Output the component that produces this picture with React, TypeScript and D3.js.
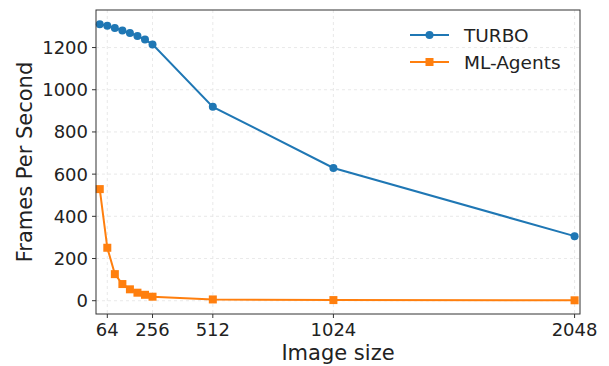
import React from 'react';
import * as d3 from 'd3';

const imageSizes = [32, 64, 96, 128, 160, 192, 224, 256, 512, 1024, 2048];
const turboFps = [1311, 1303, 1293, 1281, 1269, 1255, 1238, 1215, 919, 629, 306];
const mlAgentsFps = [529, 251, 126, 79, 54, 38, 28, 19, 6, 3, 2];
const xTicks = [64, 256, 512, 1024, 2048];
const yTicks = [0, 200, 400, 600, 800, 1000, 1200];

const W = 609;
const H = 366;
const margin = { top: 10, right: 29, bottom: 52, left: 96 };
const FONT = 'DejaVu Sans, sans-serif';

const BLUE = '#1f77b4';
const ORANGE = '#ff7f0e';

export default function App() {
  const x = d3.scaleLinear().domain([16, 2071]).range([margin.left, W - margin.right]);
  const y = d3.scaleLinear().domain([-63, 1378]).range([H - margin.bottom, margin.top]);

  const line = d3
    .line<number>()
    .x((d, i) => x(imageSizes[i]))
    .y(d => y(d));

  const plotL = margin.left;
  const plotR = W - margin.right;
  const plotT = margin.top;
  const plotB = H - margin.bottom;

  return (
    <svg width={W} height={H} style={{ position: 'absolute', left: 0, top: 0 }} fontFamily={FONT}>
      <rect width={W} height={H} fill="white" />
      {/* grid */}
      {xTicks.map(t => (
        <line key={'gx' + t} x1={x(t)} x2={x(t)} y1={plotT} y2={plotB} stroke="#e3e3e3" strokeWidth={0.8} strokeDasharray="3,3" />
      ))}
      {yTicks.map(t => (
        <line key={'gy' + t} x1={plotL} x2={plotR} y1={y(t)} y2={y(t)} stroke="#e3e3e3" strokeWidth={0.8} strokeDasharray="3,3" />
      ))}

      {/* series */}
      <path d={line(turboFps) || ''} fill="none" stroke={BLUE} strokeWidth={2} />
      {turboFps.map((v, i) => (
        <circle key={'t' + i} cx={x(imageSizes[i])} cy={y(v)} r={4} fill={BLUE} />
      ))}
      <path d={line(mlAgentsFps) || ''} fill="none" stroke={ORANGE} strokeWidth={2} />
      {mlAgentsFps.map((v, i) => (
        <rect key={'m' + i} x={x(imageSizes[i]) - 4} y={y(v) - 4} width={8} height={8} fill={ORANGE} />
      ))}

      {/* frame */}
      <rect x={plotL} y={plotT} width={plotR - plotL} height={plotB - plotT} fill="none" stroke="#333" strokeWidth={1} />

      {/* x axis */}
      {xTicks.map(t => (
        <g key={'xt' + t}>
          <line x1={x(t)} x2={x(t)} y1={plotB} y2={plotB + 4} stroke="#333" />
          <text x={x(t)} y={plotB + 22} textAnchor="middle" fontSize={18} fill="#222">{t}</text>
        </g>
      ))}
      <text x={(plotL + plotR) / 2} y={H - 6} textAnchor="middle" fontSize={21} fill="#222">Image size</text>

      {/* y axis */}
      {yTicks.map(t => (
        <g key={'yt' + t}>
          <line x1={plotL - 4} x2={plotL} y1={y(t)} y2={y(t)} stroke="#333" />
          <text x={plotL - 8} y={y(t) + 6.5} textAnchor="end" fontSize={18} fill="#222">{t}</text>
        </g>
      ))}
      <text transform={`translate(32,${(plotT + plotB) / 2}) rotate(-90)`} textAnchor="middle" fontSize={21} fill="#222">Frames Per Second</text>

      {/* legend */}
      <g>
        <line x1={410} x2={449} y1={35} y2={35} stroke={BLUE} strokeWidth={2} />
        <circle cx={429.5} cy={35} r={4} fill={BLUE} />
        <text x={464} y={41.5} fontSize={18.5} fill="#222">TURBO</text>
        <line x1={410} x2={449} y1={62} y2={62} stroke={ORANGE} strokeWidth={2} />
        <rect x={425.5} y={58} width={8} height={8} fill={ORANGE} />
        <text x={464} y={68.5} fontSize={18.5} fill="#222">ML-Agents</text>
      </g>
    </svg>
  );
}
